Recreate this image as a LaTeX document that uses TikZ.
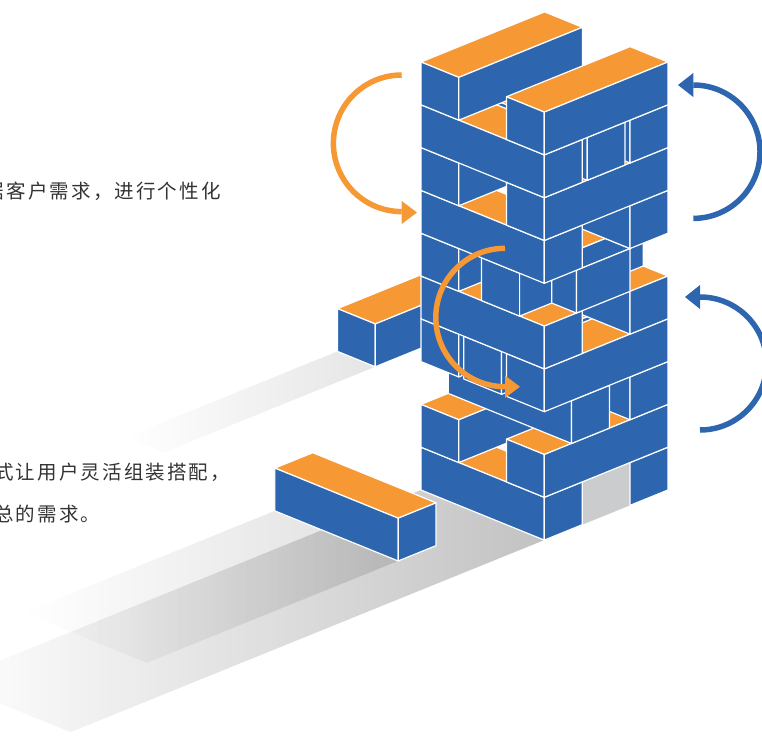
\documentclass[tikz,border=0pt]{standalone}
\usepackage{fontspec}
\newfontfamily\cjk{Noto Sans CJK SC}[LetterSpace=11]
\usetikzlibrary{fadings}
\definecolor{jblue}{RGB}{45,101,174}
\definecolor{jorange}{RGB}{246,152,52}
\definecolor{tgray}{RGB}{203,204,206}
\definecolor{txt}{RGB}{51,51,51}
\tikzset{
  face/.style={draw=white,line width=1.2pt,line join=round},
  jtop/.style={face,fill=jorange},
  jfront/.style={face,fill=jblue},
  jside/.style={face,fill=jblue},
  turn/.style={line width=5.5pt},
  shade/.style={fill=black,path fading=west},
  txtlabel/.style={font=\cjk\fontsize{19.5}{24}\selectfont,text=txt,inner sep=0pt}
}
% box: [styles]{X0}{X1}{Y0}{Y1}{Z0}
\newcommand\jbox[6][]{%
  \begin{scope}[#1]
  \pgfmathsetmacro\jzt{#6+1}
  \path[jtop] (#2,#4,\jzt)--(#3,#4,\jzt)--(#3,#5,\jzt)--(#2,#5,\jzt)--cycle;
  \path[jfront] (#2,#4,#6)--(#3,#4,#6)--(#3,#4,\jzt)--(#2,#4,\jzt)--cycle;
  \path[jside] (#3,#4,#6)--(#3,#5,#6)--(#3,#5,\jzt)--(#3,#4,\jzt)--cycle;
  \end{scope}}
\begin{document}
\begin{tikzpicture}[x=1pt,y=-1pt]
\useasboundingbox (0,0) rectangle (762,738);
\begin{scope}[shift={(421pt,-490pt)},x={(41.1pt,-16.7pt)},y={(41.2pt,16.7pt)},z={(0pt,42.8pt)}]
  % shadows
  \fill[shade,opacity=0.10] (-5.17,3.13,0)--(-4.25,3.13,0)--(-4.25,-2,0)--(-5.17,-2,0)--cycle;
  \fill[shade,opacity=0.24] (0,0,0)--(3,0,0)--(3,-11.5,0)--(0,-11.5,0)--cycle;
  \fill[shade,opacity=0.13] (-1.15,-2.4,0)--(1.85,-2.4,0)--(1.85,-8.5,0)--(-1.15,-8.5,0)--cycle;
  % far block
  \jbox{-5.17}{-4.25}{3.13}{6.13}{0}
  % ground under tower
  \fill[tgray] (0,0,0)--(3,0,0)--(3,3,0)--(0,3,0)--cycle;
  % layer 1
  \jbox[jfront/.style={fill=tgray}]{0}{3}{2.08}{3}{0}
  \jbox{0}{3}{0}{0.92}{0}
  % layer 2
  \jbox{0}{0.92}{0}{3}{1}
  \jbox{2.08}{3}{0}{3}{1}
  % layer 3
  \jbox{0}{3}{2.08}{3}{2}
  \jbox{0}{3}{0.66}{1.58}{2}
  % layer 4
  \jbox{0}{0.92}{0}{3}{3}
  \jbox{1.04}{1.96}{0}{3}{3}
  \jbox{2.08}{3}{0}{3}{3}
  % layer 5
  \jbox{0}{3}{2.08}{3}{4}
  \jbox{0}{3}{0}{0.92}{4}
  % layer 6
  \jbox{0}{0.92}{0}{3}{5}
  \jbox{1.47}{2.40}{0}{3}{5}
  \jbox[jtop/.style={face,fill=jblue}]{2.40}{3}{0.78}{2.08}{5}
  % layer 7
  \jbox{0}{3}{2.08}{3}{6}
  \jbox{0}{3}{0}{0.92}{6}
  % layer 8
  \jbox{0}{0.92}{0}{3}{7}
  \jbox{2.08}{3}{0}{3}{7}
  % layer 9
  \jbox{0}{3}{2.08}{3}{8}
  \jbox{0}{3}{1.04}{1.96}{8}
  \jbox{0}{3}{0}{0.92}{8}
  % layer 10
  \jbox{0}{0.92}{0}{3}{9}
  \jbox{2.08}{3}{0}{3}{9}
  % front block on the ground
  \jbox{-1.15}{1.85}{-2.4}{-1.48}{0}
\end{scope}
% turning arrows
\draw[turn,jorange] (401.7,75) arc[start angle=270,end angle=90,radius=68.3];
\fill[jorange] (401.7,201) -- (417,212.5) -- (401.7,224) -- cycle;
\draw[turn,jorange] (505,248.3) arc[start angle=270,end angle=90,radius=69.2];
\fill[jorange] (505,375.5) -- (520,386.7) -- (505,398) -- cycle;
\draw[turn,jblue] (693.3,218.4) arc[start angle=90,end angle=-90,radius=66.7];
\fill[jblue] (693.3,73) -- (678,85) -- (693.3,97) -- cycle;
\draw[turn,jblue] (700,430) arc[start angle=90,end angle=-90,radius=66.5];
\fill[jblue] (700,285) -- (685,297) -- (700,309) -- cycle;
% texts
\node[txtlabel,anchor=base east] (t1) at (221,198.5) {据客户需求，进行个性化};
\node[txtlabel,anchor=base west] (t2) at (-6,479) {式让用户灵活组装搭配，};
\node[txtlabel,anchor=base west] (t3) at (-6,521.5) {总的需求。};
\end{tikzpicture}
\end{document}
